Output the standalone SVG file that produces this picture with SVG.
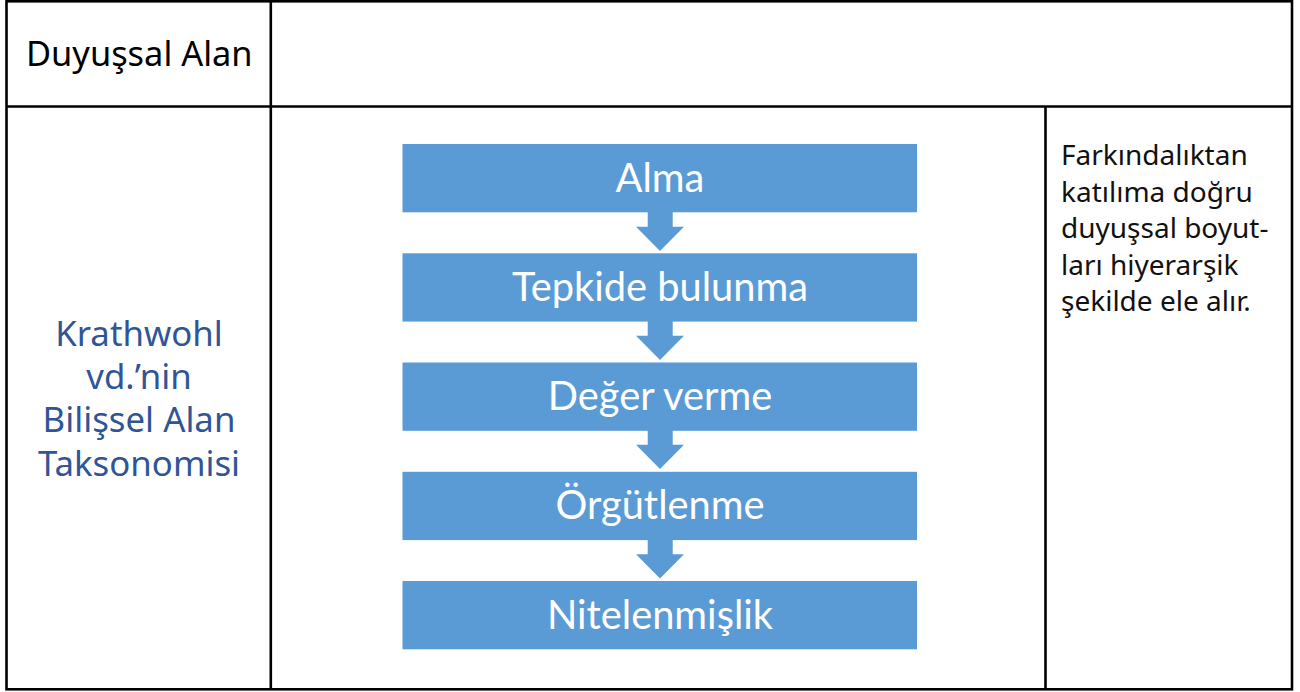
<svg xmlns="http://www.w3.org/2000/svg" width="1300" height="692" viewBox="0 0 1300 692">
<style>
.grid{fill:none;stroke:#000;stroke-width:2.6}
.box{fill:#5B9BD5}
.bt{fill:#fff;font-family:Lato,"Open Sans",sans-serif;font-size:39.8px;text-anchor:middle}
.arr{fill:#5B9BD5}
.hd{font-family:"Noto Sans",sans-serif;font-size:34.4px;fill:#000}
.kr{font-family:"Noto Sans",sans-serif;font-size:34.8px;fill:#2F5597;text-anchor:middle}
.ds{font-family:"Noto Sans",sans-serif;font-size:28px;fill:#111}
</style>
<rect width="1300" height="692" fill="#fff"/>
<g id="table">
<rect class="grid" x="6.5" y="1.3" width="1285.5" height="688"/>
<line class="grid" x1="6.5" y1="106.5" x2="1292" y2="106.5"/>
<line class="grid" x1="270.8" y1="1.3" x2="270.8" y2="689.3"/>
<line class="grid" x1="1045.5" y1="106.5" x2="1045.5" y2="689.3"/>
</g>
<g id="header"><text class="hd" x="26" y="65.5">Duyuşsal Alan</text></g>
<g id="title">
<text class="kr" x="139" y="345.7">Krathwohl</text>
<text class="kr" x="139" y="389">vd.’nin</text>
<text class="kr" x="139" y="432.3">Bilişsel Alan</text>
<text class="kr" x="139" y="475.7">Taksonomisi</text>
</g>
<g id="desc">
<text class="ds" x="1061" y="165">Farkındalıktan</text>
<text class="ds" x="1061" y="201.5">katılıma doğru</text>
<text class="ds" x="1061" y="238">duyuşsal boyut-</text>
<text class="ds" x="1061" y="274.5">ları hiyerarşik</text>
<text class="ds" x="1061" y="311">şekilde ele alır.</text>
</g>
<g id="connectors">
<path class="arr" d="M647.7 212 H672.7 V226.7 H684 L660 251 L636 226.7 H647.7 Z"/>
<path class="arr" d="M647.7 321 H672.7 V335.7 H684 L660 360 L636 335.7 H647.7 Z"/>
<path class="arr" d="M647.7 430 H672.7 V444.7 H684 L660 469 L636 444.7 H647.7 Z"/>
<path class="arr" d="M647.7 539.5 H672.7 V554.2 H684 L660 578.5 L636 554.2 H647.7 Z"/>
</g>
<g id="n1"><rect class="box" x="402.5" y="144" width="514.5" height="68.3"/><text class="bt" x="660" y="191.5">Alma</text></g>
<g id="n2"><rect class="box" x="402.5" y="253.3" width="514.5" height="68.3"/><text class="bt" x="660" y="300.8">Tepkide bulunma</text></g>
<g id="n3"><rect class="box" x="402.5" y="362.5" width="514.5" height="68.3"/><text class="bt" x="660" y="410">Değer verme</text></g>
<g id="n4"><rect class="box" x="402.5" y="471.8" width="514.5" height="68.3"/><text class="bt" x="660" y="519.3">Örgütlenme</text></g>
<g id="n5"><rect class="box" x="402.5" y="581" width="514.5" height="68.3"/><text class="bt" x="660" y="628.5">Nitelenmişlik</text></g>
</svg>
